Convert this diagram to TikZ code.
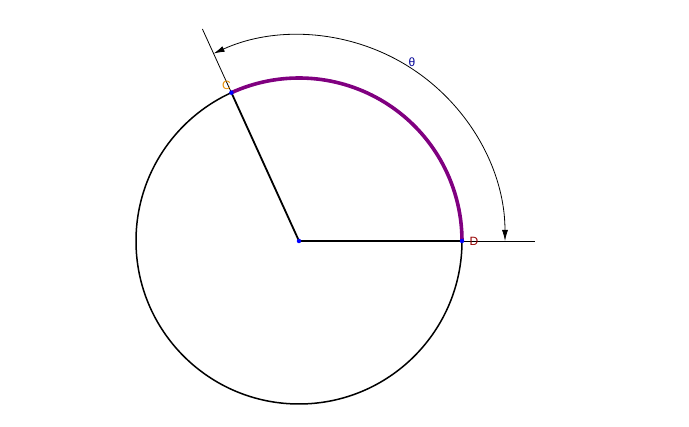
\documentclass[tikz,border=0pt]{standalone}
\usepackage{fontspec}
\setmainfont{Liberation Sans}
\usetikzlibrary{arrows.meta}

\definecolor{arcpurple}{RGB}{128,0,128}
\definecolor{lblorange}{RGB}{230,140,0}
\definecolor{lblred}{RGB}{150,0,0}
\definecolor{lblblue}{RGB}{0,0,150}

\tikzset{
  dot/.style={circle, fill=blue, inner sep=0pt, minimum size=4.5pt},
  lbl/.style={font=\fontsize{12}{14}\selectfont, inner sep=0pt},
}

\begin{document}
\begin{tikzpicture}[x=1pt,y=1pt]
  \useasboundingbox (0,0) rectangle (689,427);

  \coordinate (O) at (299,186);
  \coordinate (C) at ([shift={(114.5:163)}]O);
  \coordinate (D) at ([shift={(0:163)}]O);
  \coordinate (Cext) at ([shift={(114.5:233)}]O);
  \coordinate (Dext) at ([shift={(0:236)}]O);
  \coordinate (dimD) at ([shift={(0:206)}]O);

  \draw[line width=1.5pt] (O) circle[radius=163];
  \draw[line width=1.8pt] (C) -- (O) -- (D);
  \draw[arcpurple, line width=3.6pt] (D) arc[start angle=0, end angle=114.5, radius=163];

  % extension lines and angle
  \draw[line width=0.8pt] (C) -- (Cext);
  \draw[line width=0.8pt] (D) -- (Dext);
  \draw[line width=0.8pt, {Latex[length=11pt,width=6pt]}-{Latex[length=11pt,width=6pt]}]
    (dimD) arc[start angle=0, end angle=114.5, radius=206];

  \node[dot] (Odot) at (O) {};
  \node[dot] (Cdot) at (C) {};
  \node[dot] (Ddot) at (D) {};

  \node[lbl, text=lblorange] (Clbl) at ([shift={(-5,7)}]C) {C};
  \node[lbl, text=lblred] (Dlbl) at ([shift={(12,0)}]D) {D};
  \node[lbl, text=lblblue] (theta) at ([shift={(113,179)}]O) {θ};
\end{tikzpicture}
\end{document}
